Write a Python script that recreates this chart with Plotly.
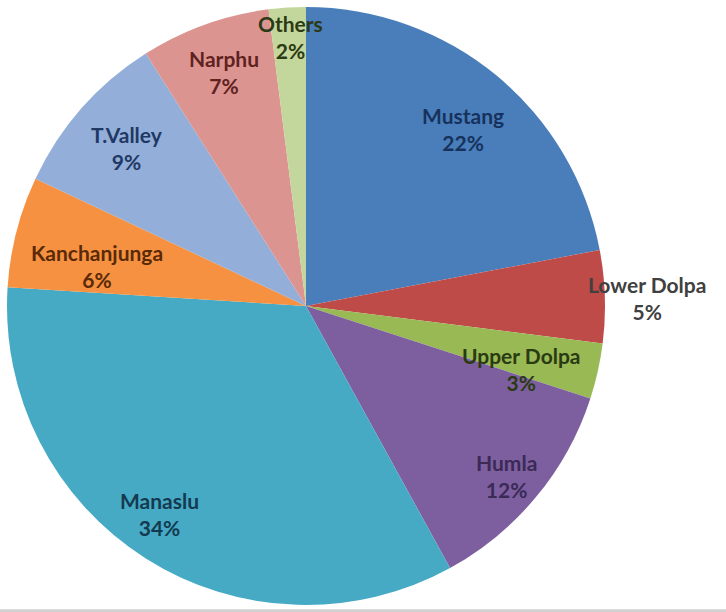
import math
import plotly.graph_objects as go

# ---- data ----
regions = ["Mustang", "Lower Dolpa", "Upper Dolpa", "Humla", "Manaslu",
           "Kanchanjunga", "T.Valley", "Narphu", "Others"]
shares = [22, 5, 3, 12, 34, 6, 9, 7, 2]

# ---- style ----
slice_colors = ["#4A7EBB", "#BE4B48", "#98B954", "#7D5FA0", "#46AAC5",
                "#F59140", "#93AED8", "#DC9491", "#C3D69B"]
label_colors = ["#16325C", "#404040", "#2A3A12", "#3A2A55", "#143A50",
                "#5A2A08", "#1F3864", "#5E2220", "#2B3A15"]
# label placement: radial fraction of radius, angular offset from slice middle (deg)
label_rfrac = [0.79, 1.14, 0.75, 0.88, 0.85, 0.71, 0.80, 0.83, 0.90]
label_dang = [2, 0.5, 3.6, 0.7, 2.7, -3.6, 0, 0.5, 0.2]

W, H = 726, 612
CX, CY, R = 306, 306, 299

fig = go.Figure(go.Pie(
    labels=regions, values=shares, sort=False, direction="clockwise",
    rotation=0, textinfo="none", hoverinfo="label+percent",
    marker=dict(colors=slice_colors, line=dict(width=0)),
    domain=dict(x=[(CX - R) / W, (CX + R) / W], y=[1 - (CY + R) / H, 1 - (CY - R) / H]),
    showlegend=False,
))

total = sum(shares)
cum = 0
annotations = []
for i, (name, v) in enumerate(zip(regions, shares)):
    mid = (cum + v / 2) / total * 360
    cum += v
    a = math.radians(mid + label_dang[i])
    r = R * label_rfrac[i]
    sx = CX + r * math.sin(a)
    sy = CY - r * math.cos(a)
    annotations.append(dict(
        x=sx / W, y=1 - sy / H, xref="paper", yref="paper",
        text=f"<b>{name}</b><br><b>{round(v / total * 100)}%</b>",
        showarrow=False, xanchor="center", yanchor="middle",
        font=dict(family="Lato, Open Sans, sans-serif", size=21, color=label_colors[i]),
        align="center",
    ))

fig.update_layout(
    width=W, height=H, margin=dict(l=0, r=0, t=0, b=0),
    paper_bgcolor="white", plot_bgcolor="white",
    annotations=annotations,
    shapes=[dict(type="line", xref="paper", yref="paper", x0=0, x1=1, y0=0.002, y1=0.002,
                 line=dict(color="#D0D0D0", width=3))],
)

fig.write_html("out.html", config={"displayModeBar": False},
               post_script="document.body.style.margin='0';")
